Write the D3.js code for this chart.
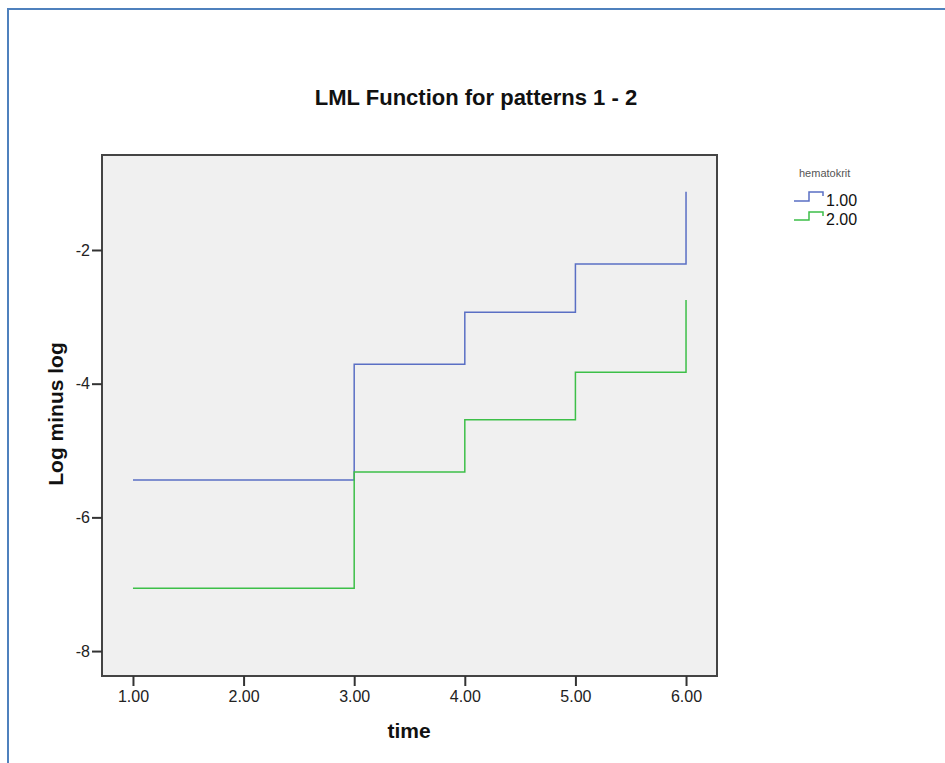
<!DOCTYPE html>
<html><head><meta charset="utf-8">
<script src="https://cdn.jsdelivr.net/npm/d3@7"></script>
<style>body{margin:0;background:#fff;} text{font-family:"Liberation Sans",Arial,sans-serif;}</style>
</head><body>
<svg id="c" width="945" height="763"></svg>
<script>
const times = [1, 3, 4, 5, 6];
const seriesNames = ["1.00", "2.00"];
const series1 = [-5.44, -3.71, -2.93, -2.21, -1.13];
const series2 = [-7.06, -5.32, -4.54, -3.83, -2.75];
const xTicks = [1, 2, 3, 4, 5, 6];
const yTicks = [-2, -4, -6, -8];
const colors = ["#5a6fc4", "#3dbf48"];

const svg = d3.select("#c");
// outer frame
svg.append("path").attr("d", "M8,763 V9 H945").attr("fill", "none")
  .attr("stroke", "#4f81bd").attr("stroke-width", 2);

const L = 102, R = 717, T = 155, B = 676;
const x = d3.scaleLinear().domain([0.72, 6.28]).range([L, R]);
const y = d3.scaleLinear().domain([-8.373, -0.579]).range([B, T]);

svg.append("rect").attr("x", L).attr("y", T).attr("width", R - L).attr("height", B - T)
  .attr("fill", "#f0f0f0");

const line = d3.line().x(d => x(d[0])).y(d => y(d[1])).curve(d3.curveStepAfter);
[series1, series2].forEach((s, i) => {
  svg.append("path").datum(times.map((t, j) => [t, s[j]]))
    .attr("d", line).attr("fill", "none").attr("stroke", colors[i]).attr("stroke-width", 1.5);
});

svg.append("rect").attr("x", L).attr("y", T).attr("width", R - L).attr("height", B - T)
  .attr("fill", "none").attr("stroke", "#444").attr("stroke-width", 2);

const xa = svg.append("g").attr("transform", `translate(0,${B})`)
  .call(d3.axisBottom(x).tickValues(xTicks).tickFormat(d3.format(".2f")).tickSize(10).tickPadding(5).tickSizeOuter(0));
const ya = svg.append("g").attr("transform", `translate(${L},0)`)
  .call(d3.axisLeft(y).tickValues(yTicks).tickFormat(d => d < 0 ? "-" + Math.abs(d) : d).tickSize(10).tickPadding(2).tickSizeOuter(0));
[xa, ya].forEach(a => {
  a.select(".domain").remove();
  a.selectAll(".tick line").attr("stroke", "#333").attr("stroke-width", 2);
  a.selectAll(".tick text").attr("fill", "#222").attr("font-size", 16)
    .style("font-family", "'Liberation Sans', Arial, sans-serif");
});

svg.append("text").attr("x", 476).attr("y", 105).attr("text-anchor", "middle")
  .attr("font-size", 22).attr("font-weight", "bold").attr("fill", "#111").text("LML Function for patterns 1 - 2");
svg.append("text").attr("x", 409).attr("y", 738).attr("text-anchor", "middle")
  .attr("font-size", 21).attr("font-weight", "bold").attr("fill", "#111").text("time");
svg.append("text").attr("transform", "translate(63,414) rotate(-90)").attr("text-anchor", "middle")
  .attr("font-size", 21).attr("font-weight", "bold").attr("fill", "#111").text("Log minus log");

// legend
svg.append("text").attr("x", 799).attr("y", 177).attr("font-size", 11).attr("fill", "#555")
  .text("hematokrit");
const legUp = [9, 8];
seriesNames.forEach((n, i) => {
  const yy = 201 + i * 19;
  svg.append("path").attr("d", `M794,${yy} H809 V${yy - legUp[i]} H823 V${yy - legUp[i] + 4}`)
    .attr("fill", "none").attr("stroke", colors[i]).attr("stroke-width", 1.5);
  svg.append("text").attr("x", 826).attr("y", yy + 5).attr("font-size", 16).attr("fill", "#111").text(n);
});
</script>
</body></html>
